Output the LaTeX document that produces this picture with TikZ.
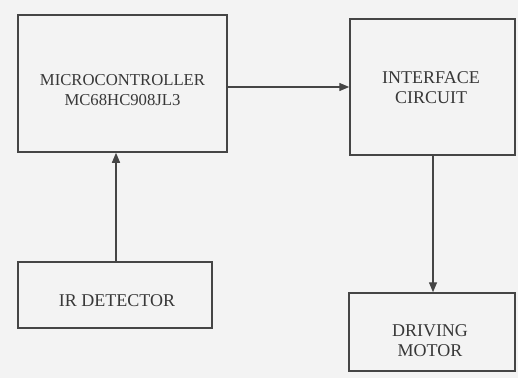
\documentclass[tikz,border=0pt]{standalone}
\usepackage{fontspec}
\setmainfont{Liberation Serif}
\usetikzlibrary{arrows.meta}
\definecolor{bgcol}{HTML}{F3F3F3}
\definecolor{linecol}{HTML}{454545}
\definecolor{txtcol}{HTML}{383838}
\begin{document}
\begin{tikzpicture}[x=1pt,y=-1pt,
  blockbox/.style={draw=linecol,line width=1.5pt,minimum width=#1,inner sep=0pt},
  lbl/.style={text=txtcol,font=\fontsize{18}{20}\selectfont,align=center,inner sep=0pt},
  arr/.style={draw=linecol,line width=1.4pt,-{Triangle[length=10pt,width=8pt]}}]
\fill[bgcol] (0,0) rectangle (518,378);
\useasboundingbox (0,0) rectangle (518,378);
% boxes
\node[blockbox=209pt,minimum height=137pt] (micro) at (122.5,83.5) {};
\node[blockbox=165pt,minimum height=136pt] (iface) at (432.5,87) {};
\node[blockbox=194pt,minimum height=66pt] (ir) at (115,295) {};
\node[blockbox=166pt,minimum height=78pt] (motor) at (432,332) {};
% texts
\node[lbl,font=\fontsize{16.7}{20}\selectfont] (microtxt) at (122.5,90) {MICROCONTROLLER\\MC68HC908JL3};
\node[lbl] (ifacetxt) at (431,88) {INTERFACE\\CIRCUIT};
\node[lbl] (irtxt) at (117,301) {IR DETECTOR};
\node[lbl] (motortxt) at (430,341) {DRIVING\\MOTOR};
% connectors
\coordinate (a1) at (227,87);
\coordinate (a2) at (350,87);
\draw[arr] (micro.east |- a1) -- (iface.west |- a2);
\coordinate (b1) at (116,262);
\draw[arr] (ir.north -| b1) -- (micro.south -| b1);
\coordinate (c1) at (433,155);
\draw[arr] (iface.south -| c1) -- (motor.north -| c1);
\end{tikzpicture}
\end{document}
